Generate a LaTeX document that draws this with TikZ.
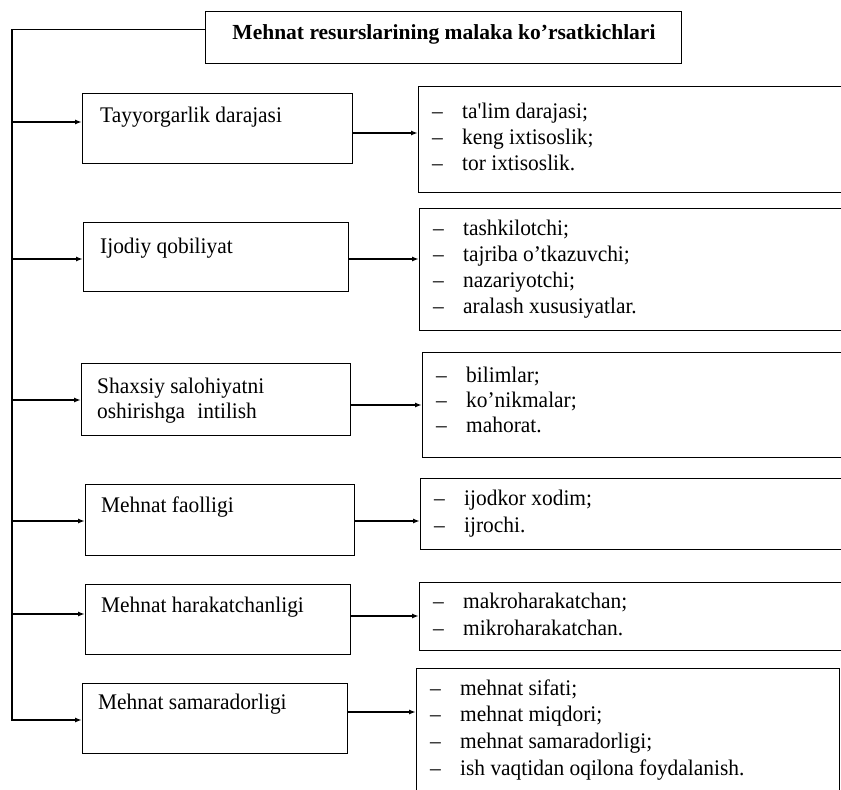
\documentclass[tikz,border=0pt]{standalone}
\usepackage{fontspec}
\setmainfont{Liberation Serif}
\newfontfamily\condfont{Liberation Serif}[Ligatures=TeX,FakeStretch=0.96]
\usetikzlibrary{arrows.meta,calc}
\begin{document}
\begin{tikzpicture}[x=1pt,y=-1pt,
  box/.style={draw, line width=1.4pt, inner sep=0pt, anchor=north west},
  lt/.style={anchor=base west, inner sep=0pt, font=\condfont\fontsize{22.3}{24}\selectfont},
  tt/.style={anchor=base, inner sep=0pt, font=\fontsize{21.5}{24}\selectfont\bfseries},
  arr/.style={line width=1.4pt, -{Latex[length=7pt,width=5pt]}}]
\useasboundingbox (0,0) rectangle (841,790);
\clip (0,0) rectangle (841,790);
\fill[white] (0,0) rectangle (841,790);

% title
\node[box, minimum width=476pt, minimum height=52pt] (T) at (205,11) {};
\node[tt] (Tt) at (444,39) {Mehnat resurslarining malaka ko'rsatkichlari};

% left boxes
\node[box, minimum width=270pt, minimum height=70pt] (L1) at (82,93) {};
\node[box, minimum width=265pt, minimum height=69pt] (L2) at (83,222) {};
\node[box, minimum width=269pt, minimum height=72pt] (L3) at (81,363) {};
\node[box, minimum width=269pt, minimum height=71pt] (L4) at (85,484) {};
\node[box, minimum width=265pt, minimum height=70pt] (L5) at (85,584) {};
\node[box, minimum width=265pt, minimum height=70pt] (L6) at (82,683) {};

\node[lt] (L1t) at (100,122) {Tayyorgarlik darajasi};
\node[lt] (L2t) at (100,253) {Ijodiy qobiliyat};
\node[lt] (L3t) at (97,393) {Shaxsiy salohiyatni};
\node[lt] (L3u) at (97,418) {oshirishga\hspace{0.55em}intilish};
\node[lt] (L4t) at (101,512) {Mehnat faolligi};
\node[lt] (L5t) at (101,612) {Mehnat harakatchanligi};
\node[lt] (L6t) at (98,709) {Mehnat samaradorligi};

% right boxes
\node[box, minimum width=440pt, minimum height=106pt] (R1) at (418,86) {};
\node[box, minimum width=440pt, minimum height=122pt] (R2) at (419,208) {};
\node[box, minimum width=440pt, minimum height=105pt] (R3) at (422,352) {};
\node[box, minimum width=440pt, minimum height=71pt] (R4) at (420,478) {};
\node[box, minimum width=440pt, minimum height=68pt] (R5) at (419,582) {};
\node[box, minimum width=423pt, minimum height=140pt] (R6) at (416,668) {};

\newcommand{\dl}{\makebox[30pt][l]{--}}
\foreach \t [count=\i] in {ta\textquotesingle lim darajasi;, keng ixtisoslik;, tor ixtisoslik.}
  \node[lt] (ra-\i) at (432,{118+(\i-1)*26}) {\dl\t};
\foreach \t [count=\i] in {tashkilotchi;, tajriba o'tkazuvchi;, nazariyotchi;, aralash xususiyatlar.}
  \node[lt] (rb-\i) at (433,{235+(\i-1)*26}) {\dl\t};
\foreach \t [count=\i] in {bilimlar;, ko'nikmalar;, mahorat.}
  \node[lt] (rc-\i) at (436,{382+(\i-1)*25}) {\dl\t};
\foreach \t [count=\i] in {ijodkor xodim;, ijrochi.}
  \node[lt] (rd-\i) at (434,{505+(\i-1)*27}) {\dl\t};
\foreach \t [count=\i] in {makroharakatchan;, mikroharakatchan.}
  \node[lt] (re-\i) at (433,{608+(\i-1)*27}) {\dl\t};
\foreach \t [count=\i] in {mehnat sifati;, mehnat miqdori;, mehnat samaradorligi;, ish vaqtidan oqilona foydalanish.}
  \node[lt] (rf-\i) at (430,{695+(\i-1)*26.7}) {\dl\t};

% trunk coordinates
\coordinate (c1) at (12,122);
\coordinate (c2) at (12,259);
\coordinate (c3) at (12,400);
\coordinate (c4) at (12,521);
\coordinate (c5) at (12,614);
\coordinate (c6) at (12,720);

\draw[arr] ([yshift=8pt]T.west) -| (c6) -- (c6 -| L6.west);
\foreach \k in {1,...,5}
  \draw[arr] (c\k) -- (c\k -| L\k.west);

% right arrows
\coordinate (d1) at (0,133);
\coordinate (d2) at (0,259);
\coordinate (d3) at (0,405);
\coordinate (d4) at (0,521);
\coordinate (d5) at (0,616);
\coordinate (d6) at (0,712);
\foreach \k in {1,...,6}
  \draw[arr] (L\k.east |- d\k) -- (R\k.west |- d\k);
\end{tikzpicture}
\end{document}
